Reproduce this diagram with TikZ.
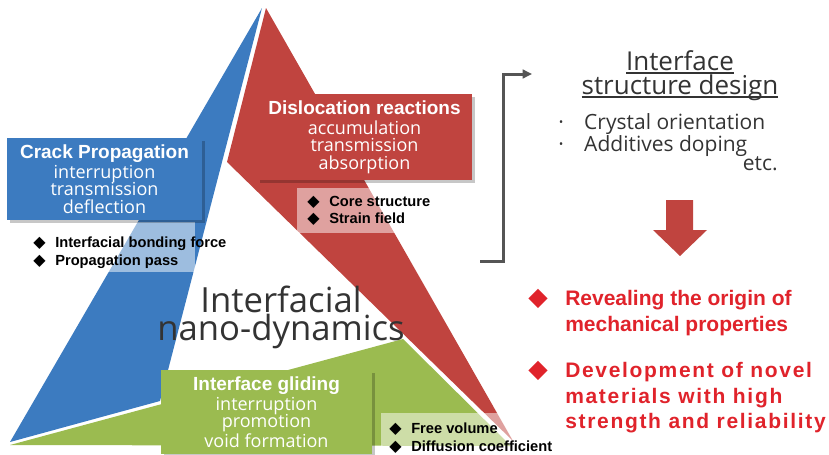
\documentclass[tikz,border=0pt]{standalone}
\usepackage{fontspec}
\setmainfont{Liberation Sans}
\newfontfamily\roundfont{Open Sans}
\newfontfamily\spacedfont[LetterSpace=8]{Liberation Sans}
\newfontfamily\symfont{DejaVu Sans}
\usepackage{xcolor}
\usetikzlibrary{arrows.meta}

\definecolor{wedgeblue}{HTML}{3C7BC0}
\definecolor{wedgered}{HTML}{C0443F}
\definecolor{wedgegreen}{HTML}{9BBB50}
\definecolor{darktext}{HTML}{333333}
\definecolor{brightred}{HTML}{E0232B}
\definecolor{bracketgrey}{HTML}{555555}

\newlength{\ulwd}
\newcommand{\dmd}[2]{\makebox[#1][l]{\fontsize{#2}{#2}\symfont ◆}}
\newcommand{\boxtitle}[1]{{\normalfont\bfseries\fontsize{14.25}{15}\selectfont #1}}
\newcommand{\uln}[1]{\settowidth{\ulwd}{#1}\rlap{#1}\rule[-2.8pt]{\ulwd}{1.1pt}}

\begin{document}
\begin{tikzpicture}[x=0.75pt,y=-0.75pt,
  topicbox/.style={inner sep=0pt, text=white, align=center,
    font=\roundfont\fontsize{13.5}{13.2}\selectfont,
    preaction={fill=black, opacity=0.22, transform canvas={shift={(2.5,2.5)}}}},
  bandtext/.style={inner sep=0pt, align=left, text=black,
    font=\bfseries\fontsize{11}{12.9}\selectfont},
  band/.style={fill=white, opacity=0.5},
  bracket/.style={draw=bracketgrey, line width=2.25pt,
    -{Triangle[length=7pt,width=6.5pt]}}]
\useasboundingbox (0,0) rectangle (829,454);

% wedges
\coordinate (blueTop) at (262,8);
\coordinate (blueLeft) at (10,442);
\coordinate (blueFoot) at (160,401);
\coordinate (redTop) at (266,8);
\coordinate (redKnee) at (227,162);
\coordinate (redTip) at (513,441);
\coordinate (greenLeft) at (10,445);
\coordinate (greenTop) at (403,339);
\coordinate (greenRight) at (511,446);
\fill[wedgeblue] (blueTop) -- (blueLeft) -- (blueFoot) -- cycle;
\fill[wedgered] (redTop) -- (redTip) -- (redKnee) -- cycle;
\fill[wedgegreen] (greenLeft) -- (greenTop) -- (greenRight) -- cycle;

% light bands
\fill[band] (28,222) rectangle (195,272);
\fill[band] (297,188) rectangle (400,233);
\fill[band] (381,413) rectangle (522,454);

% boxes
\node[topicbox, fill=wedgeblue, minimum width=146.25pt, minimum height=61.5pt]
  (crack) at (104.5,179) {\boxtitle{Crack Propagation}\\[1.8pt]interruption\\transmission\\deflection};
\node[topicbox, fill=wedgered, minimum width=161.25pt, minimum height=64.5pt]
  (disloc) at (364.5,137) {\boxtitle{Dislocation reactions}\\[1.8pt]accumulation\\transmission\\absorption};
\node[topicbox, fill=wedgegreen, minimum width=158.25pt, minimum height=63pt]
  (glide) at (266.5,412) {\boxtitle{Interface gliding}\\[1.8pt]interruption\\promotion\\void formation};

% bullet lists on the bands
\node[bandtext, anchor=north west] (crackbul) at (33,237)
  {\dmd{16.5pt}{12}Interfacial bonding force\\\dmd{16.5pt}{12}Propagation pass};
\node[bandtext, anchor=north west] (dislocbul) at (307,196)
  {\dmd{16.5pt}{12}Core structure\\\dmd{16.5pt}{12}Strain field};
\node[bandtext, anchor=north west] (glidebul) at (389,423)
  {\dmd{16.5pt}{12}Free volume\\\dmd{16.5pt}{12}Diffusion coefficient};

% centre title
\node[inner sep=0pt, align=center, text=darktext,
  font=\roundfont\fontsize{26}{20}\selectfont, anchor=north] (nano) at (281,286)
  {Interfacial\\nano-dynamics};

% right part
\coordinate (bracketStart) at (480,261);
\coordinate (bracketEnd) at (532,74);
\draw[bracket] (bracketStart) -- ++(23,0) |- (bracketEnd);

\node[inner sep=0pt, align=center, text=darktext,
  font=\roundfont\fontsize{19.5}{18}\selectfont, anchor=north] (design) at (680,50)
  {\uln{Interface}\\\uln{structure design}};
\node[inner sep=0pt, align=left, text=darktext,
  font=\roundfont\fontsize{15.75}{15.4}\selectfont, anchor=north west] (designlist) at (558,113)
  {\makebox[19.5pt][l]{·}Crystal orientation\\\makebox[19.5pt][l]{·}Additives doping};
\node[inner sep=0pt, text=darktext, font=\roundfont\fontsize{15.75}{15.4}\selectfont,
  anchor=base east] (designetc) at (778,170) {etc.};

\fill[wedgered] (666,200) -- (693,200) -- (693,230) -- (707,230) -- (680,256)
  -- (653,230) -- (666,230) -- cycle;

\node[inner sep=0pt, align=left, text=brightred,
  font=\bfseries\fontsize{15.75}{19.5}\selectfont, anchor=north west] (reveal) at (528,289)
  {\dmd{27.75pt}{19}Revealing the origin of\\\hspace{27.75pt}mechanical properties};
\node[inner sep=0pt, align=left, text=brightred,
  font=\spacedfont\bfseries\fontsize{15.75}{19.2}\selectfont, anchor=north west] (develop) at (528,361)
  {\dmd{27.75pt}{19}Development of novel\\\hspace{27.75pt}materials with high\\\hspace{27.75pt}strength and reliability};
\end{tikzpicture}
\end{document}
